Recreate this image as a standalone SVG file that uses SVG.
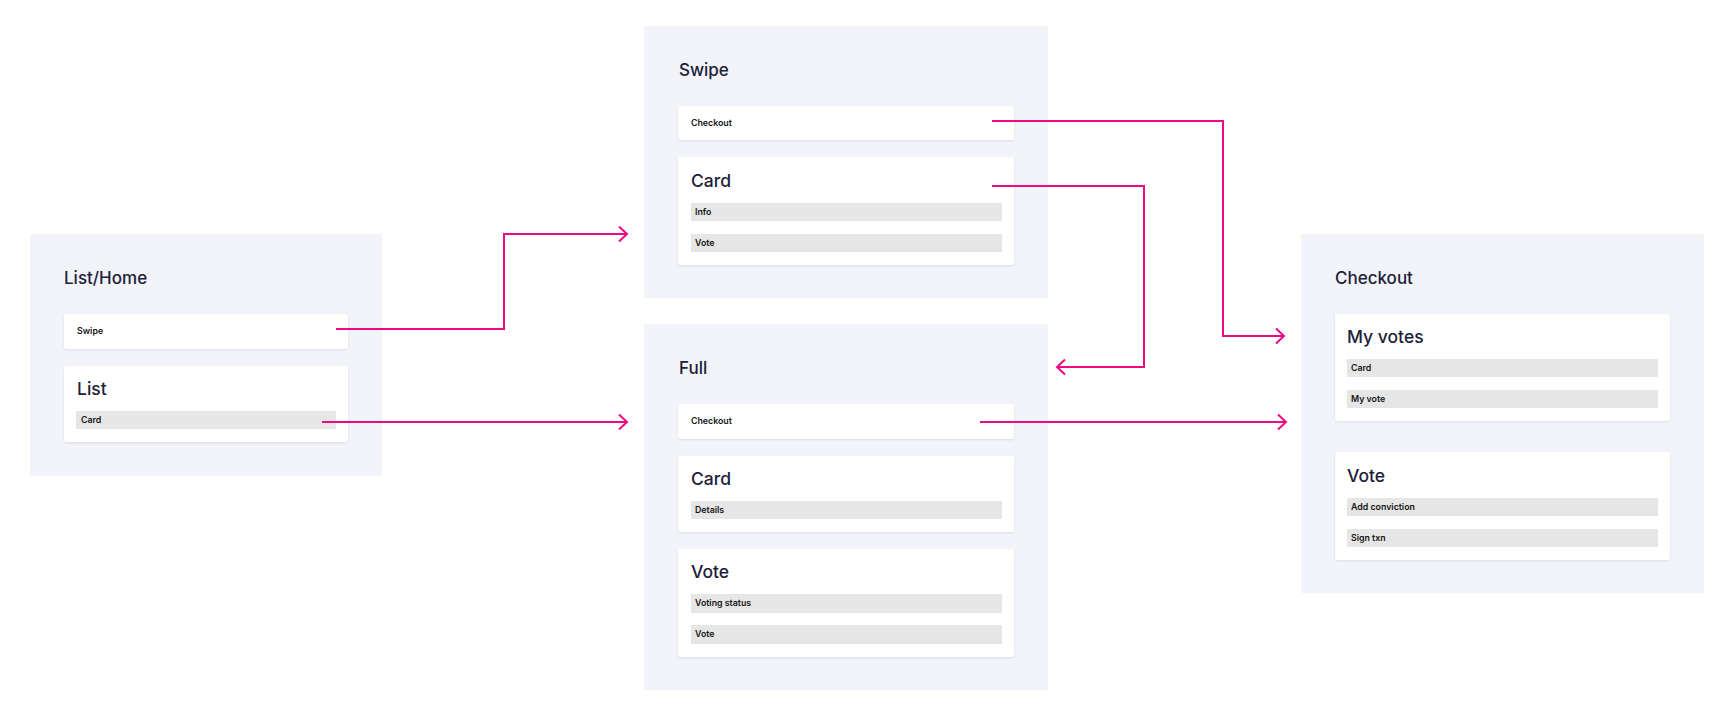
<svg xmlns="http://www.w3.org/2000/svg" width="1729" height="709" viewBox="0 0 1729 709">
<defs>
<filter id="sh" x="-5%" y="-20%" width="110%" height="150%">
<feDropShadow dx="0" dy="1" stdDeviation="1.2" flood-color="#1e1e3a" flood-opacity="0.10"/>
</filter>
<marker id="ah" markerUnits="userSpaceOnUse" markerWidth="20" markerHeight="20" refX="10" refY="10" orient="auto" viewBox="0 0 20 20">
<path d="M2 2.5 L10 10 L2 17.5" fill="none" stroke="#EC0B83" stroke-width="2"/>
</marker>
</defs>
<style>
.panel{fill:#F3F4F9}
.box{fill:#FFFFFF;filter:url(#sh)}
.bar{fill:#E6E6E6}
.pt{font-family:Inter,"Noto Sans",sans-serif;font-size:17px;font-weight:500;fill:#20203A}
.bt{font-family:Inter,"Noto Sans",sans-serif;font-size:17.5px;font-weight:500;fill:#20203A}
.st{font-family:Inter,"Noto Sans",sans-serif;font-size:8.8px;font-weight:600;fill:#151515}
.conn{fill:none;stroke:#EC0B83;stroke-width:2;marker-end:url(#ah)}
</style>
<rect width="1729" height="709" fill="#FFFFFF"/>
<g id="list-home">
<rect class="panel" x="30" y="234" width="352" height="242"/>
<text class="pt" x="64" y="284">List/Home</text>
<g id="lh-swipe">
<rect class="box" x="64" y="314" width="284" height="35" rx="3"/>
<text class="st" x="77" y="334">Swipe</text>
</g>
<g id="lh-list">
<rect class="box" x="64" y="366" width="284" height="76" rx="3"/>
<text class="bt" x="77" y="395">List</text>
<rect class="bar" x="76" y="411" width="260" height="18"/>
<text class="st" x="81" y="423">Card</text>
</g>
</g>
<g id="swipe">
<rect class="panel" x="644" y="26" width="404" height="272"/>
<text class="pt" x="679" y="76">Swipe</text>
<g id="sw-checkout">
<rect class="box" x="678" y="106" width="336" height="34" rx="3"/>
<text class="st" x="691" y="126">Checkout</text>
</g>
<g id="sw-card">
<rect class="box" x="678" y="157" width="336" height="108" rx="3"/>
<text class="bt" x="691" y="187">Card</text>
<rect class="bar" x="691" y="203" width="311" height="18"/>
<text class="st" x="695" y="215">Info</text>
<rect class="bar" x="691" y="234" width="311" height="18"/>
<text class="st" x="695" y="246">Vote</text>
</g>
</g>
<g id="full">
<rect class="panel" x="644" y="324" width="404" height="366"/>
<text class="pt" x="679" y="374">Full</text>
<g id="fu-checkout">
<rect class="box" x="678" y="404" width="336" height="35" rx="3"/>
<text class="st" x="691" y="424">Checkout</text>
</g>
<g id="fu-card">
<rect class="box" x="678" y="456" width="336" height="76" rx="3"/>
<text class="bt" x="691" y="485">Card</text>
<rect class="bar" x="691" y="501" width="311" height="18"/>
<text class="st" x="695" y="513">Details</text>
</g>
<g id="fu-vote">
<rect class="box" x="678" y="549" width="336" height="108" rx="3"/>
<text class="bt" x="691" y="578">Vote</text>
<rect class="bar" x="691" y="594" width="311" height="19"/>
<text class="st" x="695" y="606">Voting status</text>
<rect class="bar" x="691" y="625" width="311" height="19"/>
<text class="st" x="695" y="637">Vote</text>
</g>
</g>
<g id="checkout">
<rect class="panel" x="1301" y="234" width="403" height="359"/>
<text class="pt" x="1335" y="284">Checkout</text>
<g id="co-myvotes">
<rect class="box" x="1335" y="314" width="335" height="107" rx="3"/>
<text class="bt" x="1347" y="343">My votes</text>
<rect class="bar" x="1347" y="359" width="311" height="18"/>
<text class="st" x="1351" y="371">Card</text>
<rect class="bar" x="1347" y="390" width="311" height="18"/>
<text class="st" x="1351" y="402">My vote</text>
</g>
<g id="co-vote">
<rect class="box" x="1335" y="452" width="335" height="108" rx="3"/>
<text class="bt" x="1347" y="482">Vote</text>
<rect class="bar" x="1347" y="498" width="311" height="18"/>
<text class="st" x="1351" y="510">Add conviction</text>
<rect class="bar" x="1347" y="529" width="311" height="18"/>
<text class="st" x="1351" y="541">Sign txn</text>
</g>
</g>
<g id="connectors">
<path class="conn" d="M336 329 H504 V234 H627"/>
<path class="conn" d="M322 422 H627"/>
<path class="conn" d="M992 121 H1223 V336 H1284"/>
<path class="conn" d="M992 186 H1144 V367 H1057"/>
<path class="conn" d="M980 422 H1286"/>
</g>
</svg>
